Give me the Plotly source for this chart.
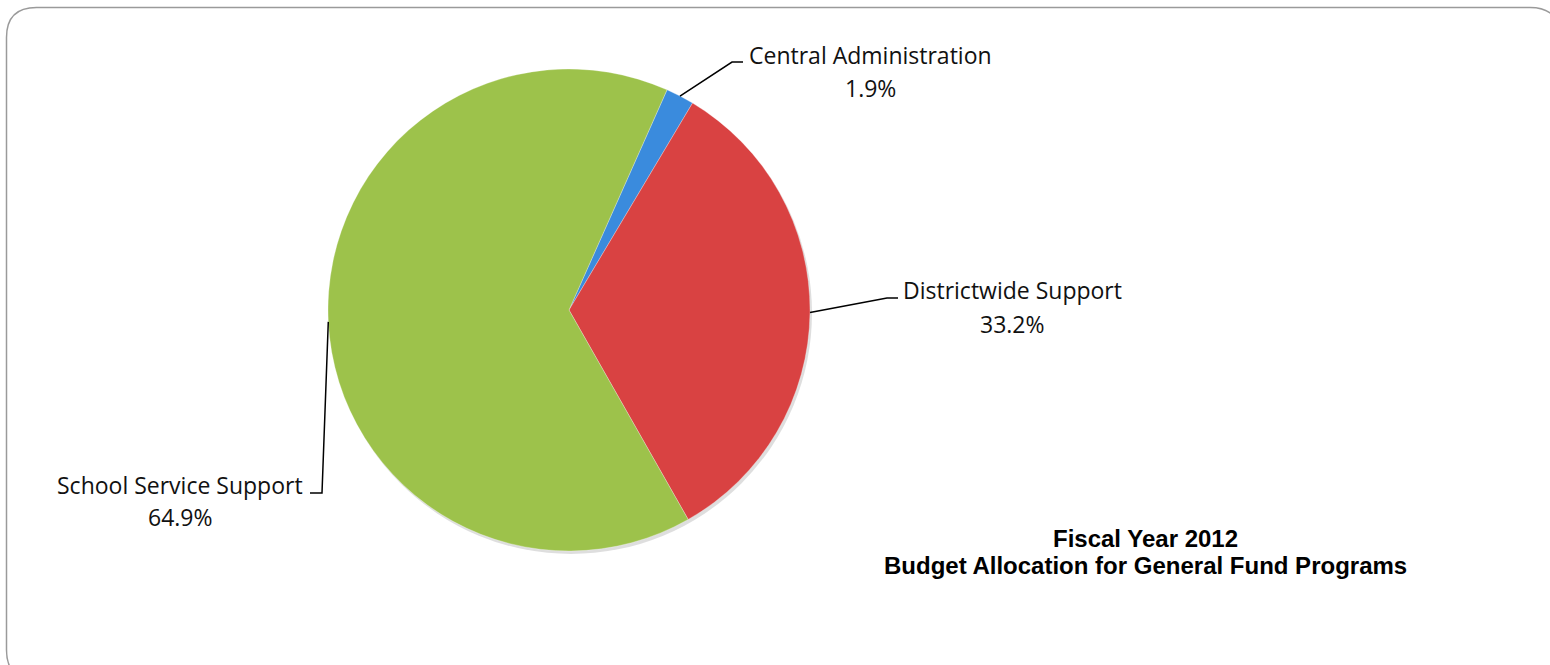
import math
import plotly.graph_objects as go

# Budget shares (percent of General Fund)
categories = ["Central Administration", "Districtwide Support", "School Service Support"]
shares = [1.9, 33.2, 64.9]
colors = ["#3A8BDD", "#D94242", "#9DC24B"]

W, H = 1550, 665
CX, CY, R = 569, 310, 241          # pie centre / radius in pixels
START_ANGLE = 24                    # first slice begins 24 deg clockwise from 12 o'clock

def px(x):
    return x / W

def py(y):
    return 1 - y / H

fig = go.Figure()

fig.add_trace(go.Pie(
    labels=categories,
    values=shares,
    sort=False,
    direction="clockwise",
    rotation=START_ANGLE,
    marker=dict(colors=colors, line=dict(color="rgba(255,255,255,0.35)", width=0.8)),
    textinfo="none",
    hoverinfo="label+percent",
    showlegend=False,
    domain=dict(x=[px(CX - R), px(CX + R)], y=[py(CY + R), py(CY - R)]),
))

# label layout: (text x centre, name y, percent y, elbow points of leader line)
label_layout = {
    "Central Administration": dict(x=871, y1=55, y2=88, elbow=[(732, 62), (743, 62)]),
    "Districtwide Support": dict(x=1012, y1=290, y2=324, elbow=[(887, 298), (898, 298)]),
    "School Service Support": dict(x=180, y1=485, y2=517, elbow=[(322, 493), (310, 493)]),
}
label_font = dict(family="Open Sans", size=23, color="#111111")

shapes = []
annotations = []
total = sum(shares)
angle = START_ANGLE
for name, val in zip(categories, shares):
    sweep = 360 * val / total
    mid = math.radians(angle + sweep / 2)
    angle += sweep
    sx = CX + R * math.sin(mid)
    sy = CY - R * math.cos(mid)
    lay = label_layout[name]
    pts = [(sx, sy)] + lay["elbow"]
    path = "M " + " L ".join(f"{px(x)},{py(y)}" for x, y in pts)
    shapes.append(dict(type="path", xref="paper", yref="paper", path=path,
                       line=dict(color="black", width=1.5)))
    annotations.append(dict(x=px(lay["x"]), y=py(lay["y1"]), xref="paper", yref="paper",
                            text=name, showarrow=False, xanchor="center", yanchor="middle",
                            font=label_font))
    annotations.append(dict(x=px(lay["x"]), y=py(lay["y2"]), xref="paper", yref="paper",
                            text=f"{val:.1f}%", showarrow=False, xanchor="center", yanchor="middle",
                            font=label_font))

# soft drop shadow under the pie
shapes.insert(0, dict(type="circle", xref="paper", yref="paper", layer="below",
                      x0=px(CX - R + 2), x1=px(CX + R + 2), y0=py(CY + R + 3), y1=py(CY - R + 3),
                      fillcolor="rgba(0,0,0,0.13)", line=dict(width=0)))

# rounded frame around the chart area
x0, y0, x1, y1, rr = 6.5, 7.5, 1560, 680, 30
frame = (f"M {px(x0)},{py(y0 + rr)} Q {px(x0)},{py(y0)} {px(x0 + rr)},{py(y0)} "
         f"L {px(x1 - rr)},{py(y0)} Q {px(x1)},{py(y0)} {px(x1)},{py(y0 + rr)} "
         f"L {px(x1)},{py(y1 - rr)} Q {px(x1)},{py(y1)} {px(x1 - rr)},{py(y1)} "
         f"L {px(x0 + rr)},{py(y1)} Q {px(x0)},{py(y1)} {px(x0)},{py(y1 - rr)} Z")
shapes.append(dict(type="path", xref="paper", yref="paper", path=frame,
                   line=dict(color="#9A9A9A", width=1.5)))

# chart caption
for text, y in [("Fiscal Year 2012", 538), ("Budget Allocation for General Fund Programs", 565)]:
    annotations.append(dict(x=px(1145), y=py(y), xref="paper", yref="paper", text=f"<b>{text}</b>",
                            showarrow=False, xanchor="center", yanchor="middle",
                            font=dict(family="Liberation Sans", size=24, color="black")))

fig.update_layout(
    width=W, height=H, autosize=False,
    margin=dict(l=0, r=0, t=0, b=0),
    paper_bgcolor="white", plot_bgcolor="white",
    shapes=shapes, annotations=annotations,
)

fig.write_html("out.html")
